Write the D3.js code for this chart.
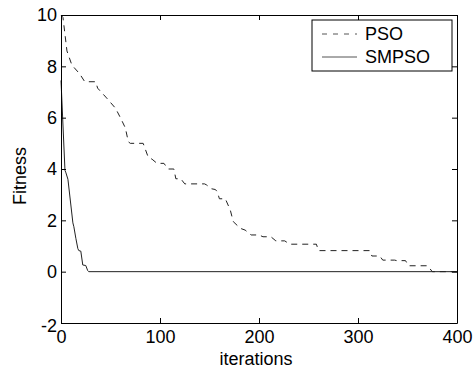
<!DOCTYPE html>
<html><head><meta charset="utf-8">
<script src="https://cdn.jsdelivr.net/npm/d3@7"></script>
<style>body{margin:0;background:#fff}svg{display:block}text{font-family:"Liberation Sans",Arial,Helvetica,sans-serif}</style>
</head><body><svg id="c" width="474" height="370"></svg>
<script>
const xTicks = [0, 100, 200, 300, 400];
const yTicks = [-2, 0, 2, 4, 6, 8, 10];
const seriesNames = ["PSO", "SMPSO"];
const psoIter = [0,2,6,11,19,24,35,37,46,55,60,65,68,70,83,88,92,97,104,108,114,116,121,125,145,147,152,156,158,160,166,171,174,181,186,192,200,204,212,217,226,231,258,260,312,314,322,325,337,339,348,351,370,372,375,400];
const psoVal  = [10,9.9,8.6,8.05,7.7,7.4,7.4,7.15,6.77,6.37,6.0,5.6,5.06,5.0,5.0,4.47,4.38,4.22,4.22,4.0,4.0,3.62,3.62,3.42,3.42,3.38,3.23,3.2,3.1,2.84,2.84,2.4,1.95,1.69,1.62,1.43,1.43,1.36,1.36,1.2,1.2,1.07,1.07,0.82,0.82,0.61,0.61,0.45,0.45,0.43,0.43,0.23,0.23,0.15,0,0];
const smIter = [0,4,5,7,12,13,15,17,18,20,22,25,27,28,400];
const smVal  = [7.45,3.95,3.85,3.6,1.9,1.75,1.3,0.9,0.82,0.8,0.26,0.24,0.04,0,0];

const L = 61, R = 457, T = 15, B = 323;
const svg = d3.select("#c");
const x = d3.scaleLinear().domain([0, 400]).range([L, R]);
const y = d3.scaleLinear().domain([-2, 10]).range([B, T]);
const fs = 18;
const fmt = d => (d < 0 ? "-" + Math.abs(d) : String(d));

const line = d3.line().x(d => x(d[0])).y(d => y(d[1]));
const pso = psoIter.map((v, i) => [v, psoVal[i]]);
const sm = smIter.map((v, i) => [v, smVal[i]]);

svg.append("path").datum(sm).attr("d", line).attr("fill", "none").attr("stroke", "#222").attr("stroke-width", 1);
svg.append("path").datum(pso).attr("d", line).attr("fill", "none").attr("stroke", "#222").attr("stroke-width", 1).attr("stroke-dasharray", "6,5");

// axes box & ticks
const tl = 5;
const gB = svg.append("g").attr("transform", `translate(0,${B})`).call(d3.axisBottom(x).tickValues(xTicks).tickSizeInner(-tl).tickSizeOuter(0).tickPadding(7).tickFormat(fmt));
const gT = svg.append("g").attr("transform", `translate(0,${T})`).call(d3.axisTop(x).tickValues(xTicks).tickSizeInner(-tl).tickSizeOuter(0).tickFormat(""));
const gL = svg.append("g").attr("transform", `translate(${L},0)`).call(d3.axisLeft(y).tickValues(yTicks).tickSizeInner(-tl).tickSizeOuter(0).tickPadding(4).tickFormat(fmt));
const gR = svg.append("g").attr("transform", `translate(${R},0)`).call(d3.axisRight(y).tickValues(yTicks).tickSizeInner(-tl).tickSizeOuter(0).tickFormat(""));
[gB, gT, gL, gR].forEach(g => {
  g.selectAll("path.domain").attr("stroke", "#000").attr("stroke-width", 1);
  g.selectAll("line").attr("stroke", "#000");
  g.selectAll("text").attr("font-size", fs).attr("font-family", "Liberation Sans, Arial, sans-serif").attr("fill", "#000");
});
gB.selectAll("text").attr("dy", "0.71em");
gL.selectAll("text").filter(d => d < 0).attr("dy", "0.45em");

svg.append("text").attr("x", 256).attr("y", 365).attr("text-anchor", "middle").attr("font-size", fs).text("iterations");
svg.append("text").attr("transform", `translate(26,176) rotate(-90)`).attr("text-anchor", "middle").attr("font-size", fs).text("Fitness");

// legend
const lg = svg.append("g");
lg.append("rect").attr("x", 312).attr("y", 20).attr("width", 140).attr("height", 51).attr("fill", "#fff").attr("stroke", "#000").attr("stroke-width", 1);
const ly = [34, 57];
seriesNames.forEach((n, i) => {
  lg.append("line").attr("x1", 322).attr("x2", 357).attr("y1", ly[i]).attr("y2", ly[i]).attr("stroke", "#555").attr("stroke-width", 1).attr("stroke-dasharray", i === 0 ? "5,6" : null);
  lg.append("text").attr("x", 365).attr("y", ly[i]).attr("dy", "0.35em").attr("font-size", fs).text(n);
});
</script></body></html>
